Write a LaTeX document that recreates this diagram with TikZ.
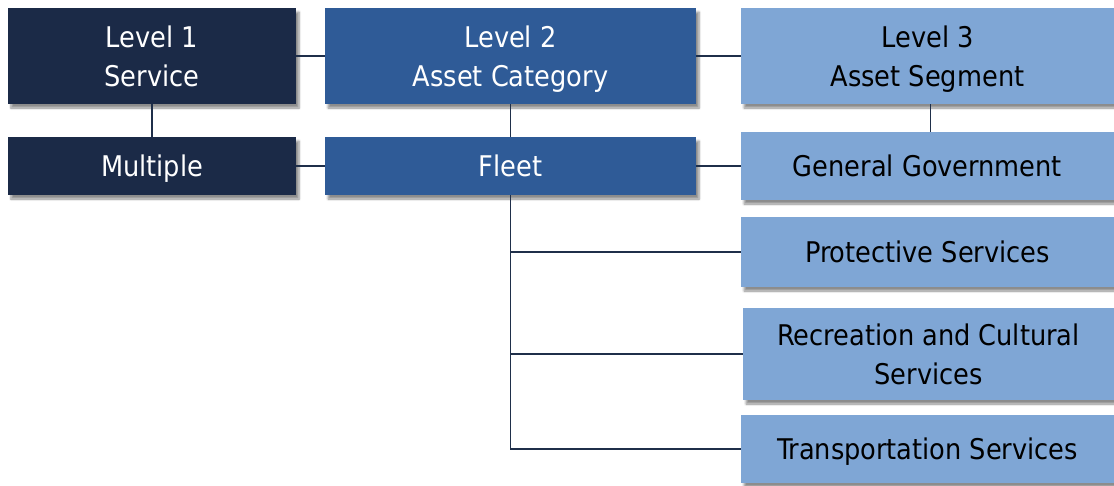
\documentclass[tikz,border=0pt]{standalone}
\usepackage{fontspec}
\setmainfont{DejaVu Sans Condensed}
\usetikzlibrary{shadows.blur}
\definecolor{cA}{HTML}{1B2A47}
\definecolor{cB}{HTML}{2F5B97}
\definecolor{cC}{HTML}{7FA6D5}
\definecolor{cLine}{HTML}{1F2F4A}
\tikzset{
  box/.style={draw=none, minimum width=#1, inner sep=0pt, align=center,
    font=\fontsize{28.5}{39}\selectfont,
    blur shadow={shadow xshift=3pt, shadow yshift=-4pt, shadow blur steps=6, shadow opacity=45}},
  one/.style={text height=24pt, text depth=3pt},
  two/.style={text height=63pt, text depth=3pt},
  lvA/.style={box=288pt, fill=cA, text=white},
  lvB/.style={box=371pt, fill=cB, text=white},
  lvC/.style={box=373pt, fill=cC, text=black},
  conn/.style={draw=cLine, line width=1.3pt}
}
\begin{document}
\begin{tikzpicture}[x=1pt,y=-1pt]
\useasboundingbox (0,0) rectangle (1114,485);
\node[lvA, two, minimum height=96pt] (L1) at (152,56) {Level 1\\Service};
\node[lvB, two, minimum height=96pt] (L2) at (510.5,56) {Level 2\\Asset Category};
\node[lvC, two, minimum height=96pt] (L3) at (927.5,56) {Level 3\\Asset Segment};
\node[lvA, one, minimum height=58pt] (M) at (152,166) {Multiple};
\node[lvB, one, minimum height=58pt] (F) at (510.5,166) {Fleet};
\node[lvC, one, minimum height=68pt] (GG) at (927.5,166) {General Government};
\node[lvC, one, minimum height=70pt] (PS) at (927.5,252) {Protective Services};
\node[lvC, two, minimum height=92pt, minimum width=371pt] (RC) at (928.5,354) {Recreation and Cultural\\Services};
\node[lvC, one, minimum height=68pt] (TS) at (927.5,449) {Transportation Services};
\draw[conn] (L1.east) -- (L2.west);
\draw[conn] (L2.east) -- (L3.west);
\draw[conn] (M.east) -- (F.west);
\draw[conn] (F.east) -- (GG.west);
\draw[conn] (L1.south) -- (M.north);
\draw[conn] (L2.south) -- (F.north);
\draw[conn] ([xshift=3pt]L3.south) -- ([xshift=3pt]L3.south |- GG.north);
\draw[conn] (F.south) -- (F.south |- TS.west) -- (TS.west);
\draw[conn] (F.south |- PS.west) -- (PS.west);
\draw[conn] (F.south |- RC.west) -- (RC.west);
\end{tikzpicture}
\end{document}
